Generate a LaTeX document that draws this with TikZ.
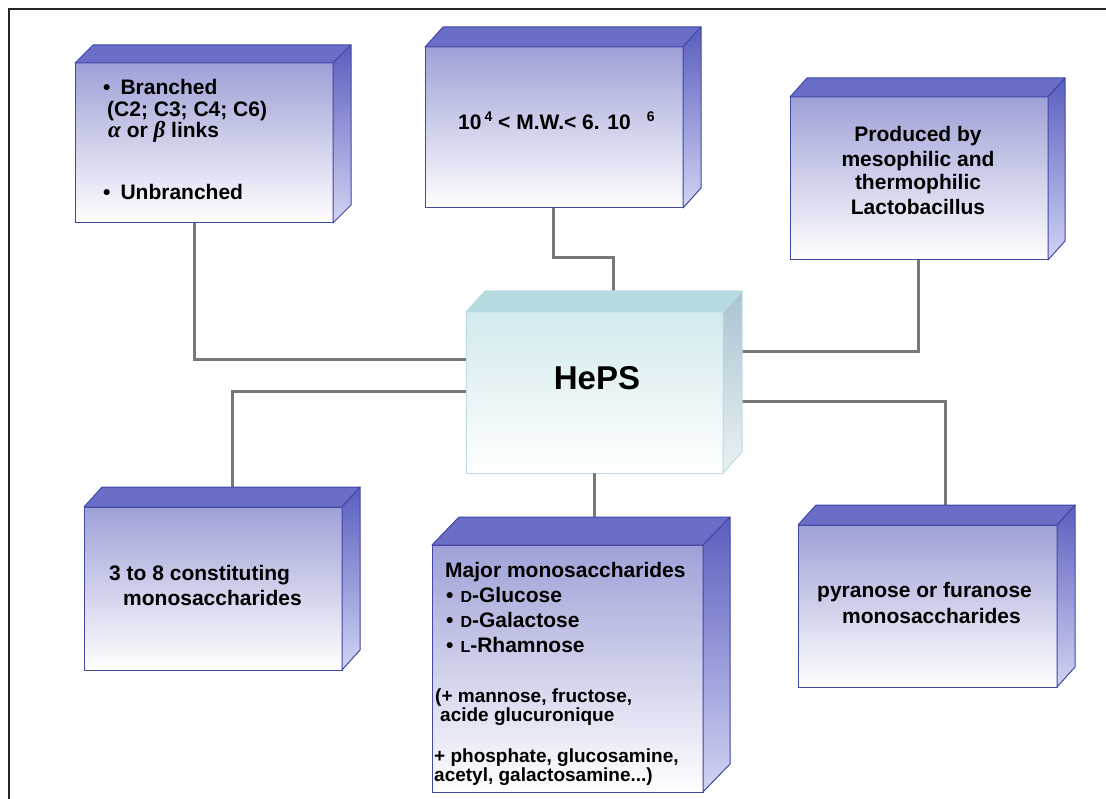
\documentclass[tikz,border=0pt]{standalone}
\usepackage{fontspec}
\setmainfont{Liberation Sans}
\newfontfamily\grkfont{Liberation Serif}

\definecolor{faceTop}{HTML}{9EA1D7}
\definecolor{roofBlue}{HTML}{6A6EC6}
\definecolor{sideDark}{HTML}{5A5EBE}
\definecolor{sideLight}{HTML}{D2D4F3}
\definecolor{edgeBlue}{HTML}{4347A6}
\definecolor{hepsTop}{HTML}{D2EAEE}
\definecolor{hepsRoof}{HTML}{B5DBE1}
\definecolor{hepsSideA}{HTML}{ABC3D1}
\definecolor{hepsSideB}{HTML}{E8F2F4}
\definecolor{hepsEdge}{HTML}{BBDCE2}
\definecolor{linkGray}{HTML}{787878}

% roof and right side of a box whose front face is node #1
\newcommand\boxdepth[5]{%
  \path[#4] (#1.north west) -- ++(#2,-#3) -- ([shift={(#2,-#3)}]#1.north east)
    -- (#1.north east) -- cycle;
  \path[#5] (#1.north east) -- ++(#2,-#3) -- ([shift={(#2,-#3)}]#1.south east)
    -- (#1.south east) -- cycle;
}

\tikzset{
  front/.style={rectangle, inner sep=0pt, outer sep=0pt, draw=edgeBlue,
    line width=1pt, top color=faceTop, bottom color=white},
  hepsfront/.style={rectangle, inner sep=0pt, outer sep=0pt, draw=hepsEdge,
    line width=1pt, top color=hepsTop, bottom color=white},
  roof/.style={fill=roofBlue, draw=edgeBlue, line width=1pt, line join=round},
  side/.style={top color=sideDark, bottom color=sideLight, draw=edgeBlue,
    line width=1pt, line join=round},
  hepsroof/.style={fill=hepsRoof, draw=hepsEdge, line width=1pt, line join=round},
  hepsside/.style={top color=hepsSideA, bottom color=hepsSideB, draw=hepsEdge,
    line width=1pt, line join=round},
  link/.style={draw=linkGray, line width=3pt},
  txt/.style={inner sep=0pt, font=\fontsize{21}{24}\selectfont\bfseries},
  small/.style={inner sep=0pt, font=\fontsize{19}{20}\selectfont\bfseries},
}

\begin{document}
\begin{tikzpicture}[x=1pt, y=-1pt]
\useasboundingbox[fill=white] (0,0) rectangle (1106,799);

% outer frame
\draw[line width=2pt, black!85] (9,799) -- (9,9) -- (1106,9);

% front faces
\node[hepsfront, minimum width=257pt, minimum height=161pt] (c)  at (594.5,392.5) {};
\node[front, minimum width=258pt, minimum height=160pt] (tl) at (204,143) {};
\node[front, minimum width=258pt, minimum height=161pt] (tm) at (554,127.5) {};
\node[front, minimum width=258pt, minimum height=163pt] (tr) at (919,178.5) {};
\node[front, minimum width=258pt, minimum height=163pt] (bl) at (213,588.5) {};
\node[front, minimum width=271pt, minimum height=247pt] (bm) at (567.5,668.5) {};
\node[front, minimum width=259pt, minimum height=162pt] (br) at (927.5,606) {};

% connectors
\coordinate (jTL) at (194,360);
\coordinate (jBL) at (232,392);
\coordinate (jTR) at (918,352);
\coordinate (jBR) at (945,402);
\coordinate (jBM) at (594,0);
\coordinate (jTMa) at (553,258);
\coordinate (jTMb) at (613,258);
\draw[link] (tl.south -| jTL) -- (jTL) -- (jTL -| c.west);
\draw[link] (jBL -| c.west) -- (jBL) -- (jBL |- bl.north);
\draw[link] (jTR -| c.east) -- (jTR) -- (jTR |- tr.south);
\draw[link] (jBR -| c.east) -- (jBR) -- (jBR |- br.north);
\draw[link] (c.south -| jBM) -- (bm.north -| jBM);
\draw[link] (tm.south -| jTMa) -- (jTMa) -- (jTMb) -- (jTMb |- c.north);

% roofs and sides
\boxdepth{c}{19}{21}{hepsroof}{hepsside}
\boxdepth{tl}{18}{18}{roof}{side}
\boxdepth{tm}{18}{20}{roof}{side}
\boxdepth{tr}{17}{19}{roof}{side}
\boxdepth{bl}{18}{20}{roof}{side}
\boxdepth{bm}{27}{28}{roof}{side}
\boxdepth{br}{18}{20}{roof}{side}

% labels
\node[inner sep=0pt, font=\fontsize{33}{36}\selectfont\bfseries, anchor=base] (heps) at (597,390) {HePS};

\node[txt, anchor=base west] (tl1) at (103,95) {•\hspace{10pt}Branched};
\node[txt, anchor=base west] (tl2) at (107,117) {(C2; C3; C4; C6)};
\node[txt, anchor=base west] (tl3) at (108,138) {{\grkfont\fontsize{23}{24}\selectfont\bfseries\itshape α} or {\grkfont\fontsize{23}{24}\selectfont\bfseries\itshape β} links};
\node[txt, anchor=base west] (tl4) at (103,200) {•\hspace{10pt}Unbranched};

\node[txt, anchor=base west] (tm1) at (458,130)
  {10\hspace{3pt}\raisebox{8pt}{\fontsize{14}{14}\selectfont 4} < M.W.< 6. 10\hspace{16pt}\raisebox{8pt}{\fontsize{14}{14}\selectfont 6}};

\node[txt, anchor=base] (tr1) at (918,142) {Produced by};
\node[txt, anchor=base] (tr2) at (918,167) {mesophilic and};
\node[txt, anchor=base] (tr3) at (918,190) {thermophilic};
\node[txt, anchor=base] (tr4) at (918,215) {Lactobacillus};

\node[txt, anchor=base west] (bl1) at (109,580) {3 to 8 constituting};
\node[txt, anchor=base west] (bl2) at (123,605) {monosaccharides};

\node[txt, anchor=base west] (br1) at (817,597) {pyranose or furanose};
\node[txt, anchor=base west] (br2) at (842,623) {monosaccharides};

\node[txt, anchor=base west] (bm1) at (445,577) {Major monosaccharides};
\node[txt, anchor=base west] (bm2) at (446,602) {•\hspace{7pt}{\fontsize{16}{16}\selectfont D}-Glucose};
\node[txt, anchor=base west] (bm3) at (446,627) {•\hspace{7pt}{\fontsize{16}{16}\selectfont D}-Galactose};
\node[txt, anchor=base west] (bm4) at (446,652) {•\hspace{7pt}{\fontsize{16}{16}\selectfont L}-Rhamnose};
\node[small, anchor=base west] (bm5) at (435,702) {(+ mannose, fructose,};
\node[small, anchor=base west] (bm6) at (440,721) {acide glucuronique};
\node[small, anchor=base west] (bm7) at (434,762) {+ phosphate, glucosamine,};
\node[small, anchor=base west] (bm8) at (434,781) {acetyl, galactosamine...)};
\end{tikzpicture}
\end{document}
